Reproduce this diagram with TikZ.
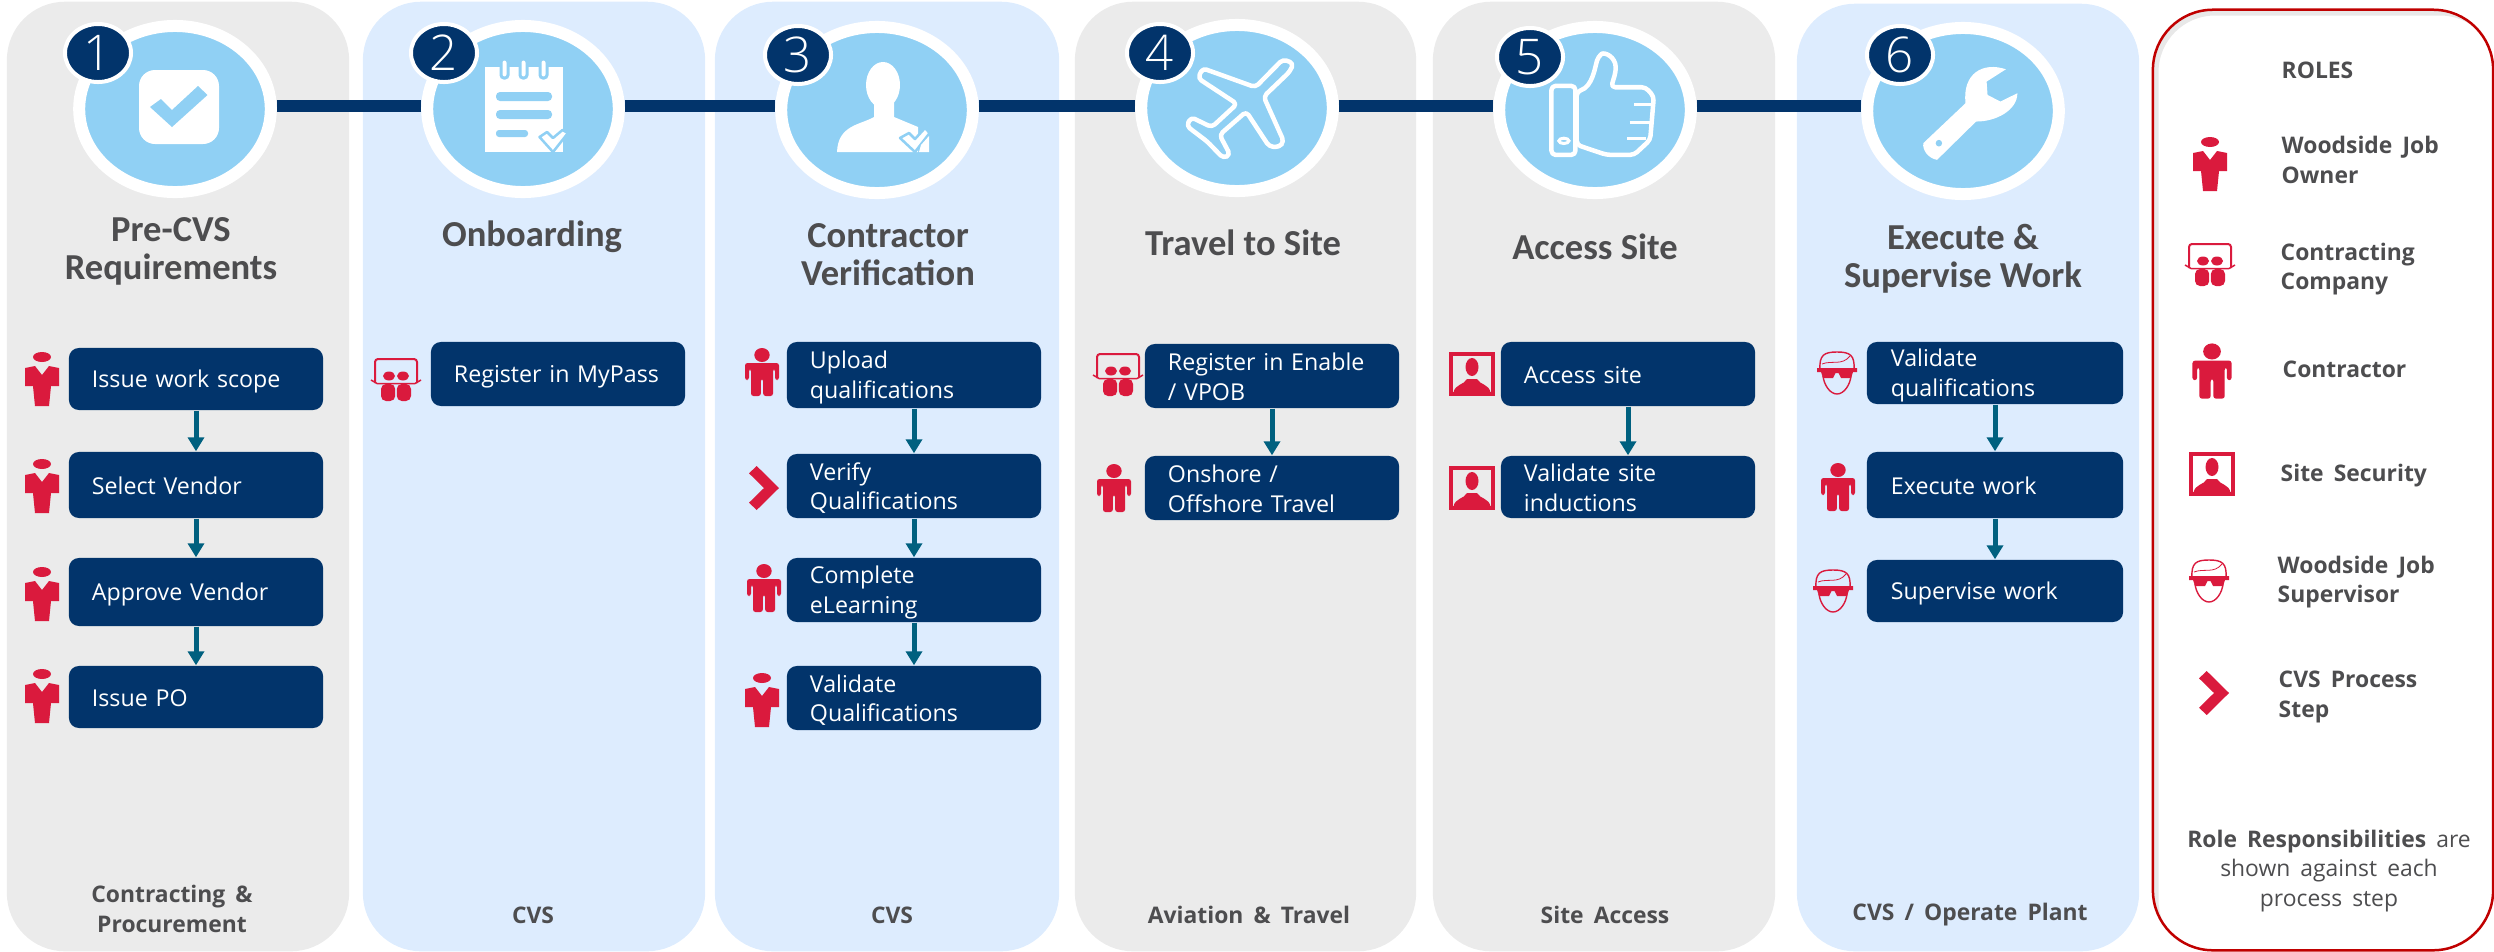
\documentclass[tikz,border=0pt]{standalone}
\usepackage{fontspec}
\usepackage{tikz}
\usetikzlibrary{arrows.meta}
\usetikzlibrary{shapes.geometric}

\newfontfamily\stagefont{Carlito}
\newfontfamily\boxfont[WordSpace=1.7]{Open Sans}
\newfontfamily\numfont[UprightFont=* Light]{Open Sans}

\definecolor{panelgrey}{HTML}{EBEBEB}
\definecolor{panelblue}{HTML}{DDECFE}
\definecolor{circblue}{HTML}{90D0F4}
\definecolor{navy}{HTML}{02346B}
\definecolor{rolered}{HTML}{DA1A3D}
\definecolor{framered}{HTML}{C00000}
\definecolor{teal}{HTML}{00607F}
\definecolor{textgrey}{HTML}{4D4D4F}

\tikzset{
  stage/.style={rectangle, rounded corners=0.58cm, minimum height=9.49cm, inner sep=0},
  circ/.style={ellipse, draw=white, line width=0.12cm, fill=circblue, minimum width=1.915cm, minimum height=1.66cm, inner sep=0},
  badge/.style={ellipse, draw=white, line width=0.04cm, fill=navy, minimum width=0.66cm, minimum height=0.58cm, inner sep=0},
  badgenum/.style={text=white, inner sep=0, font=\numfont\fontsize{14}{14}\selectfont},
  heading/.style={text=textgrey, align=center, inner sep=0, font=\stagefont\bfseries\fontsize{10.4}{10.8}\selectfont},
  footer/.style={text=textgrey, align=center, inner sep=0, font=\boxfont\bfseries\fontsize{6.5}{8.5}\selectfont},
  rolelabel/.style={text=textgrey, align=left, anchor=west, inner sep=0, font=\boxfont\bfseries\fontsize{6.5}{8.5}\selectfont},
  procbox/.style={rectangle, rounded corners=0.1cm, fill=navy, text=white, align=left,
    minimum width=2.54cm, text width=2.08cm, inner xsep=0.23cm, inner ysep=0,
    execute at begin node={\rule{0pt}{0.22cm}},
    execute at end node={\rule[-0.03cm]{0pt}{0.03cm}},
    font=\boxfont\fontsize{6.6}{8.5}\selectfont},
  bar/.style={navy, line width=0.12cm},
  procarrow/.style={teal, line width=0.05cm, -{Triangle[width=0.16cm,length=0.14cm]}},
  iconline/.style={draw=white, fill=circblue, line width=0.045cm, line join=round},
  % red role markers, drawn around their own centre
  owner/.pic={
    \fill[rolered] (0,-22) ellipse (9 and 5);
    \fill[rolered] (-17,-11) -- (-7,-13) -- (0,-4) -- (7,-13) -- (17,-11) -- (17,7) -- (9,7)
      -- (7,27) -- (-7,27) -- (-9,7) -- (-17,7) -- cycle;
  },
  contractor/.pic={
    \fill[rolered] (0,-17) ellipse (7.7 and 7);
    \fill[rolered, rounded corners=0.025cm] (-17,-9) -- (17,-9) -- (17,8) -- (13,8) -- (13,-3)
      -- (11,-3) -- (11,24) -- (1.2,24) -- (1.2,7) -- (-1.2,7) -- (-1.2,24) -- (-11,24)
      -- (-11,-3) -- (-13,-3) -- (-13,8) -- (-17,8) -- cycle;
  },
  company/.pic={
    \draw[rolered, line width=0.02cm, rounded corners=0.03cm] (-21,3) -- (-21,-21) -- (21,-21) -- (21,3);
    \fill[rolered] (-7,-4) ellipse (6 and 4.5);
    \fill[rolered] (7,-4) ellipse (6 and 4.5);
    \draw[rolered, line width=0.015cm] (-25,0) -- (-19,3.5) -- (19,3.5) -- (25,0);
    \fill[rolered, rounded corners=0.05cm] (-15,4) rectangle (-0.8,21);
    \fill[rolered, rounded corners=0.05cm] (0.8,4) rectangle (15,21);
  },
  security/.pic={
    \draw[rolered, line width=0.035cm] (-21,-20) rectangle (21,20);
    \fill[rolered] (0,-7) ellipse (6.5 and 9);
    \fill[rolered] (-18.5,18.5) .. controls (-17,10) and (-8,11) .. (-5,5) -- (5,5)
      .. controls (8,11) and (17,10) .. (18.5,18.5) -- cycle;
  },
  supervisor/.pic={
    \draw[rolered, line width=0.014cm] (-17,-3) .. controls (-18,-18) and (-13,-21) .. (0,-21)
      .. controls (13,-21) and (18,-18) .. (17,-3);
    \draw[rolered, line width=0.014cm] (-14,3) .. controls (-13,12) and (-7,21) .. (0,21)
      .. controls (7,21) and (13,12) .. (14,3);
    \draw[rolered, line width=0.008cm] (-15,-9) .. controls (-5,-13) and (5,-7) .. (13,-17);
    \fill[rolered] (-20,-5) -- (20,-5) -- (20,-1) -- (16,-1) -- (14,5) -- (4,5) -- (1.5,0)
      -- (-1.5,0) -- (-4,5) -- (-14,5) -- (-16,-1) -- (-20,-1) -- cycle;
  },
  chevron/.pic={
    \fill[rolered] (-7.3,-22) -- (15,0) -- (-7.3,22) -- (-15,14.7) -- (0,0) -- (-15,-14.7) -- cycle;
  }
}

\begin{document}
\begin{tikzpicture}[x=0.01cm,y=-0.01cm]
  \useasboundingbox (0,0) rectangle (2494,951);

  % Stage panels
  \node[stage, fill=panelgrey, minimum width=3.42cm] (p1) at (178,476.5) {};
  \node[stage, fill=panelblue, minimum width=3.42cm] (p2) at (534,476.5) {};
  \node[stage, fill=panelblue, minimum width=3.44cm] (p3) at (887,476.5) {};
  \node[stage, fill=panelgrey, minimum width=3.41cm] (p4) at (1245.5,476.5) {};
  \node[stage, fill=panelgrey, minimum width=3.42cm] (p5) at (1604,476.5) {};
  \node[stage, fill=panelblue, minimum width=3.42cm, minimum height=9.47cm] (p6) at (1968,477.5) {};

  % Roles frame with its soft inner edge
  \begin{scope}
    \clip[rounded corners=0.6cm] (2153,10) rectangle (2493,950);
    \draw[gray!18, line width=0.07cm, rounded corners=0.6cm] (2155,12) rectangle (2500,960);
  \end{scope}
  \node[rectangle, draw=framered, line width=0.025cm, rounded corners=0.6cm, minimum width=3.4cm, minimum height=9.4cm, inner sep=0] (roles) at (2323,480) {};

  % Stage circles and the bar between them
  \node[circ] (c1) at (175,109) {};
  \node[circ] (c2) at (523,109) {};
  \node[circ] (c3) at (877,110) {};
  \node[circ] (c4) at (1237,108) {};
  \node[circ] (c5) at (1595,110) {};
  \node[circ] (c6) at (1963,111) {};
  \coordinate (barline) at (0,106);
  \draw[bar] (c1.east |- barline) -- (c2.west |- barline);
  \draw[bar] (c2.east |- barline) -- (c3.west |- barline);
  \draw[bar] (c3.east |- barline) -- (c4.west |- barline);
  \draw[bar] (c4.east |- barline) -- (c5.west |- barline);
  \draw[bar] (c5.east |- barline) -- (c6.west |- barline);

  % Icon 1: checked box
  \fill[white, rounded corners=0.16cm] (139,70) rectangle (219,144);
  \fill[circblue] (150,107) -- (161,99) -- (172,110) -- (198,86) -- (207.5,95) -- (172,127) -- cycle;

  % Icon 2: note pad
  \fill[white] (485,67) rectangle (563,152);
  \fill[circblue, rounded corners=0.04cm] (496,92) rectangle (552,101);
  \fill[circblue, rounded corners=0.04cm] (496,110) rectangle (552,119);
  \fill[circblue, rounded corners=0.03cm] (496,130) rectangle (528,137);
  \draw[fill=white, draw=circblue, line width=0.03cm, rounded corners=0.03cm] (501,59) rectangle (508,78);
  \draw[fill=white, draw=circblue, line width=0.03cm, rounded corners=0.03cm] (520,59) rectangle (527,78);
  \draw[fill=white, draw=circblue, line width=0.03cm, rounded corners=0.03cm] (540,59) rectangle (547,78);
  \draw[fill=white, draw=circblue, line width=0.025cm, line join=round] (539.5,137) -- (547,132) -- (553,138) -- (562.5,130) -- (568,133) -- (553,152) -- cycle;

  % Icon 3: person with a check
  \fill[white] (883,85) ellipse (17 and 23);
  \fill[white] (874,100) -- (874,117) .. controls (860,125) and (838,125) .. (837,152) -- (918,152) -- (918,127) -- (894,117) -- (894,100) -- cycle;
  \draw[fill=white, draw=circblue, line width=0.025cm, line join=round] (900,138) -- (909,133) -- (915,139) -- (925,128) -- (929.6,133) -- (915,152) -- cycle;
  \fill[white] (921,145) -- (929,136) -- (929,152) -- (919,152) -- cycle;

  % Icon 4: aeroplane
  \begin{scope}[shift={(700,0)},xscale=0.459,yscale=0.333]
    \draw[iconline, rounded corners=0.04cm] (1270,178) -- (1293,190) -- (1285,215) -- (1228,290) -- (1272,425) -- (1262,442) -- (1240,440) -- (1190,335) -- (1132,405) -- (1155,465) -- (1140,475) -- (1105,425) -- (1060,378) -- (1070,352) -- (1115,382) -- (1170,312) -- (1085,235) -- (1095,205) -- (1210,262) -- cycle;
  \end{scope}

  % Icon 5: thumb up
  \begin{scope}[shift={(1400,0)},xscale=0.459,yscale=0.333]
    \draw[iconline, rounded corners=0.04cm] (385,275) .. controls (420,260) and (425,200) .. (432,170) .. controls (445,155) and (470,170) .. (470,215) -- (460,262) -- (535,262) -- (553,290) -- (545,420) -- (510,465) -- (450,465) -- (385,435) -- cycle;
    \draw[iconline, rounded corners=0.04cm] (330,258) rectangle (382,465);
    \draw[white, line width=0.03cm] (357,423) circle (11 and 8);
    \draw[white, line width=0.03cm] (510,315) -- (552,315);
    \draw[white, line width=0.03cm] (500,368) -- (548,368);
    \draw[white, line width=0.03cm] (495,415) -- (535,415);
  \end{scope}

  % Icon 6: spanner
  \begin{scope}[shift={(1400,0)},xscale=0.459,yscale=0.333]
    \fill[white] (1320,208) .. controls (1270,185) and (1225,220) .. (1232,310) -- (1140,430) .. controls (1138,450) and (1150,475) .. (1170,480) -- (1255,365) .. controls (1300,365) and (1345,330) .. (1345,280) -- (1308,305) -- (1280,285) -- (1278,245) -- cycle;
    \fill[circblue] (1174,430) circle (7 and 10);
  \end{scope}

  % Numbered badges
  \node[badge] (b1) at (98,53) {};
  \node[badge] (b2) at (444,53) {};
  \node[badge] (b3) at (798,55) {};
  \node[badge] (b4) at (1160,53) {};
  \node[badge] (b5) at (1530,57) {};
  \node[badge] (b6) at (1900,55) {};
  \node[badgenum] (n1) at (b1) {1};
  \node[badgenum] (n2) at (b2) {2};
  \node[badgenum] (n3) at (b3) {3};
  \node[badgenum] (n4) at (b4) {4};
  \node[badgenum] (n5) at (b5) {5};
  \node[badgenum] (n6) at (b6) {6};

  % Stage headings
  \node[heading] (h1) at (171,251) {Pre-CVS\\Requirements};
  \node[heading] (h2) at (532,237) {Onboarding};
  \node[heading] (h3) at (888,255) {Contractor\\Verification};
  \node[heading] (h4) at (1243,243) {Travel to Site};
  \node[heading] (h5) at (1595,247) {Access Site};
  \node[heading] (h6) at (1963,259) {Execute \&\\Supervise Work};

  % Process steps: Pre-CVS
  \node[procbox, minimum height=0.62cm] (a1) at (196,379) {Issue work scope};
  \node[procbox, minimum height=0.66cm] (a2) at (196,485) {Select Vendor};
  \node[procbox, minimum height=0.68cm] (a3) at (196,592) {Approve Vendor};
  \node[procbox, minimum height=0.62cm] (a4) at (196,697) {Issue PO};
  \draw[procarrow] (a1) -- (a2);
  \draw[procarrow] (a2) -- (a3);
  \draw[procarrow] (a3) -- (a4);
  \pic at (42,379) {owner};
  \pic at (42,486) {owner};
  \pic at (42,594) {owner};
  \pic at (42,696) {owner};

  % Onboarding
  \node[procbox, minimum height=0.64cm] (e1) at (558,374) {Register in MyPass};
  \pic at (396,380) {company};

  % Contractor verification
  \node[procbox, minimum height=0.66cm] (v1) at (914,375) {Upload\\qualifications};
  \node[procbox, minimum height=0.64cm] (v2) at (914,486) {Verify\\Qualifications};
  \node[procbox, minimum height=0.64cm] (v3) at (914,590) {Complete\\eLearning};
  \node[procbox, minimum height=0.64cm] (v4) at (914,698) {Validate\\Qualifications};
  \draw[procarrow] (v1) -- (v2);
  \draw[procarrow] (v2) -- (v3);
  \draw[procarrow] (v3) -- (v4);
  \pic at (762,372) {contractor};
  \pic at (764,488) {chevron};
  \pic at (764,588) {contractor};
  \pic at (762,700) {owner};

  % Travel to site
  \node[procbox, minimum height=0.64cm] (t1) at (1272,376) {Register in Enable\\/ VPOB};
  \node[procbox, minimum height=0.64cm] (t2) at (1272,488) {Onshore /\\Offshore Travel};
  \draw[procarrow] (t1) -- (t2);
  \pic at (1118,375) {company};
  \pic at (1114,488) {contractor};

  % Access site
  \node[procbox, minimum height=0.64cm] (s1) at (1628,374) {Access site};
  \node[procbox, minimum height=0.62cm] (s2) at (1628,487) {Validate site\\inductions};
  \draw[procarrow] (s1) -- (s2);
  \pic at (1472,374) {security};
  \pic at (1472,488) {security};

  % Execute and supervise
  \node[procbox, minimum width=2.56cm, minimum height=0.62cm] (w1) at (1995,373) {Validate\\qualifications};
  \node[procbox, minimum width=2.56cm, minimum height=0.66cm] (w2) at (1995,485) {Execute work};
  \node[procbox, minimum width=2.56cm, minimum height=0.62cm] (w3) at (1995,591) {Supervise work};
  \draw[procarrow] (w1) -- (w2);
  \draw[procarrow] (w2) -- (w3);
  \pic at (1837,373) {supervisor};
  \pic at (1838,487) {contractor};
  \pic at (1833,591) {supervisor};

  % Footers
  \node[footer] (f1) at (172,909) {Contracting \&\\Procurement};
  \node[footer] (f2) at (533,915) {CVS};
  \node[footer] (f3) at (892,915) {CVS};
  \node[footer] (f4) at (1249,915) {Aviation \& Travel};
  \node[footer] (f5) at (1605,915) {Site Access};
  \node[footer] (f6) at (1970,915) {CVS / Operate Plant};

  % Roles legend
  \node[rolelabel] (r0) at (2281,70) {ROLES};
  \pic at (2210,164) {owner};
  \node[rolelabel] (r1) at (2281,160) {Woodside Job\\Owner};
  \pic at (2210,265) {company};
  \node[rolelabel] (r2) at (2280,269) {Contracting\\Company};
  \pic[scale=1.15] at (2212,371) {contractor};
  \node[rolelabel] (r3) at (2282,369) {Contractor};
  \pic at (2212,474) {security};
  \node[rolelabel] (r4) at (2280,476) {Site Security};
  \pic at (2209,581) {supervisor};
  \node[rolelabel] (r5) at (2277,582) {Woodside Job\\Supervisor};
  \pic at (2214,693) {chevron};
  \node[rolelabel] (r6) at (2278,697) {CVS Process\\Step};
  \node[rolelabel, anchor=center, align=center, font=\boxfont\fontsize{6.5}{8.5}\selectfont] (r7) at (2329,871) {\textbf{Role Responsibilities} are\\shown against each\\process step};
\end{tikzpicture}
\end{document}
